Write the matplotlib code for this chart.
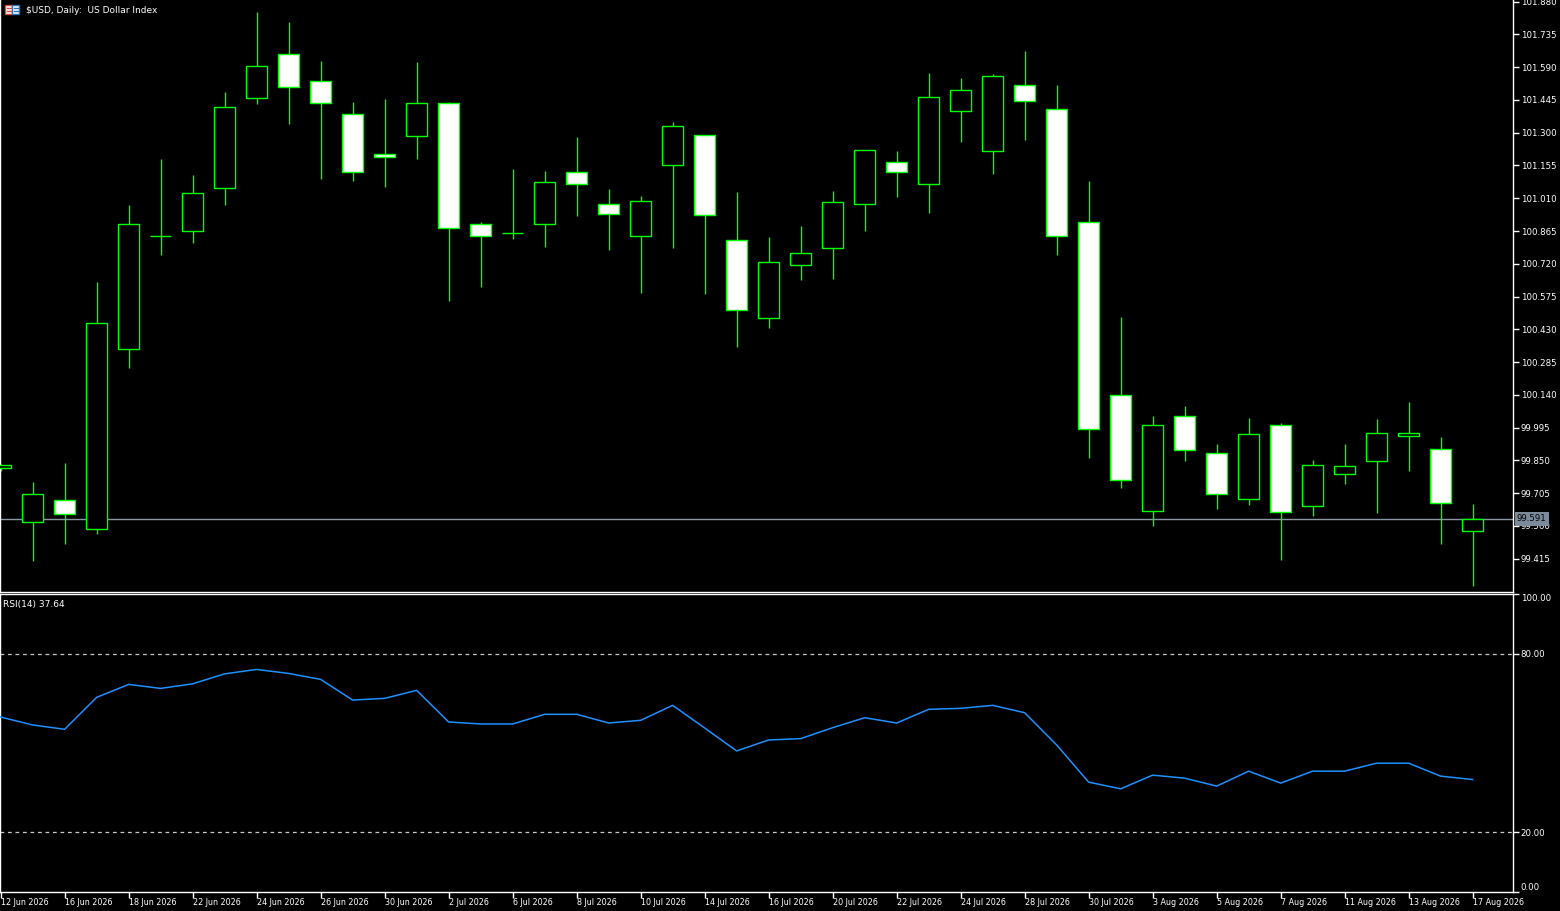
import matplotlib
matplotlib.use("Agg")
import matplotlib.pyplot as plt
from matplotlib.patches import Rectangle
from matplotlib.lines import Line2D
import matplotlib.transforms as mtransforms
import numpy as np

# ---------------- data ----------------
dates = ["12 Jun 2026", "15 Jun 2026", "16 Jun 2026", "17 Jun 2026", "18 Jun 2026", "19 Jun 2026",
         "22 Jun 2026", "23 Jun 2026", "24 Jun 2026", "25 Jun 2026", "26 Jun 2026", "29 Jun 2026",
         "30 Jun 2026", "1 Jul 2026", "2 Jul 2026", "3 Jul 2026", "6 Jul 2026", "7 Jul 2026",
         "8 Jul 2026", "9 Jul 2026", "10 Jul 2026", "13 Jul 2026", "14 Jul 2026", "15 Jul 2026",
         "16 Jul 2026", "17 Jul 2026", "20 Jul 2026", "21 Jul 2026", "22 Jul 2026", "23 Jul 2026",
         "24 Jul 2026", "27 Jul 2026", "28 Jul 2026", "29 Jul 2026", "30 Jul 2026", "31 Jul 2026",
         "3 Aug 2026", "4 Aug 2026", "5 Aug 2026", "6 Aug 2026", "7 Aug 2026", "10 Aug 2026",
         "11 Aug 2026", "12 Aug 2026", "13 Aug 2026", "14 Aug 2026", "17 Aug 2026"]

opens = [99.815, 99.576, 99.673, 99.546, 100.341, 100.843, 100.863, 101.054, 101.452, 101.650,
         101.527, 101.381, 101.205, 101.285, 101.430, 100.895, 100.856, 100.898, 101.125, 100.983,
         100.841, 101.156, 101.288, 100.824, 100.478, 100.714, 100.789, 100.986, 101.169, 101.074,
         101.398, 101.220, 101.510, 101.403, 100.904, 100.138, 99.625, 100.045, 99.881, 99.678,
         100.005, 99.647, 99.788, 99.846, 99.957, 99.899, 99.536]
highs = [99.835, 99.754, 99.838, 100.638, 100.978, 101.183, 101.115, 101.481, 101.835, 101.791,
         101.618, 101.435, 101.449, 101.613, 101.435, 100.905, 101.139, 101.131, 101.281, 101.051,
         101.020, 101.347, 101.290, 101.037, 100.839, 100.886, 101.042, 101.222, 101.217, 101.564,
         101.542, 101.560, 101.662, 101.511, 101.086, 100.485, 100.046, 100.091, 99.923, 100.038,
         100.014, 99.852, 99.923, 100.033, 100.108, 99.954, 99.657]
lows = [99.805, 99.407, 99.480, 99.525, 100.257, 100.761, 100.814, 100.978, 101.428, 101.340,
        101.096, 101.088, 101.058, 101.185, 100.556, 100.619, 100.831, 100.795, 100.932, 100.781,
        100.590, 100.790, 100.587, 100.350, 100.438, 100.650, 100.654, 100.863, 101.017, 100.946,
        101.261, 101.119, 101.269, 100.761, 99.862, 99.730, 99.561, 99.849, 99.636, 99.654,
        99.411, 99.605, 99.747, 99.619, 99.804, 99.481, 99.296]
closes = [99.828, 99.700, 99.611, 100.457, 100.895, 100.845, 101.032, 101.412, 101.594, 101.501,
          101.430, 101.125, 101.191, 101.433, 100.877, 100.844, 100.858, 101.080, 101.071, 100.942,
          100.996, 101.328, 100.937, 100.514, 100.726, 100.769, 100.992, 101.222, 101.125, 101.457,
          101.488, 101.549, 101.439, 100.841, 99.988, 99.762, 100.006, 99.895, 99.700, 99.965,
          99.620, 99.828, 99.824, 99.970, 99.970, 99.660, 99.591]

rsi = [58.65, 55.97, 54.53, 65.26, 69.61, 68.27, 69.81, 73.16, 74.64, 73.30, 71.29, 64.35, 64.92,
       67.60, 56.98, 56.31, 56.31, 59.56, 59.56, 56.64, 57.54, 62.57, 54.96, 47.25, 50.94, 51.38, 55.06,
       58.42, 56.64, 61.23, 61.57, 62.57, 60.09, 49.26, 36.76, 34.52, 39.11, 38.10, 35.42, 40.45,
       36.43, 40.45, 40.45, 43.13, 43.13, 38.77, 37.64]

price_ticks = [99.415, 99.560, 99.705, 99.850, 99.995, 100.140, 100.285, 100.430, 100.575,
               100.720, 100.865, 101.010, 101.155, 101.300, 101.445, 101.590, 101.735, 101.880]
rsi_levels = [20, 80]
rsi_ticks = [0, 20, 80, 100]
last_price = 99.591
title = "$USD, Daily:  US Dollar Index"
rsi_title = "RSI(14) 37.64"

# ---------------- style ----------------
BG = "black"
FG = "white"
GREEN = "#00ff00"
W, H = 1560, 911
fig = plt.figure(figsize=(W / 100, H / 100), dpi=100, facecolor=BG)

ax_right = 1513
ax1 = fig.add_axes([0, (H - 592) / H, ax_right / W, 592 / H], facecolor=BG)
ax2 = fig.add_axes([0, (H - 891.5) / H, ax_right / W, (891.5 - 594) / H], facecolor=BG, sharex=ax1)

n = len(opens)
x = np.arange(n)
xmin = -0.02
xmax = xmin + ax_right / 32.0

# candles
body_w = 0.67
for i in range(n):
    o, h, l, c = opens[i], highs[i], lows[i], closes[i]
    ax1.vlines(x[i], l, h, color=GREEN, lw=1.0, zorder=2)
    bottom = min(o, c)
    height = max(abs(c - o), 0.0015)
    face = "white" if c < o else "black"
    ax1.add_patch(Rectangle((x[i] - body_w / 2, bottom), body_w, height,
                            facecolor=face, edgecolor=GREEN, lw=1.0, zorder=3))

ax1.axhline(last_price, color="#8a96a3", lw=1.0, zorder=1)
ax1.set_xlim(xmin, xmax)
ax1.set_ylim(99.268, 101.887)

ax1.set_yticks(price_ticks)
ax1.set_yticklabels([f"{t:.3f}" for t in price_ticks])
ax1.tick_params(axis="y", which="both", left=False, right=True, labelleft=False, labelright=True,
                direction="out", length=4, width=1, color=FG, labelcolor=FG, labelsize=6.2, pad=1.5)
ax1.tick_params(axis="x", bottom=False, labelbottom=False)

blend1 = mtransforms.blended_transform_factory(ax1.transAxes, ax1.transData)
ax1.text(1.0025, last_price, f"{last_price:.3f}", transform=blend1, color="black", fontsize=6.2,
         va="center", ha="left", clip_on=False, zorder=10,
         bbox=dict(facecolor="#7b8b9b", edgecolor="none", boxstyle="square,pad=0.25"))

# RSI panel
for lv in rsi_levels:
    ax2.axhline(lv, color="#c8c8c8", lw=0.9, ls=(0, (3, 3)), zorder=1)
ax2.plot(x, rsi, color="#1e90ff", lw=1.1, zorder=3)
ax2.set_ylim(0, 100)
ax2.set_yticks(rsi_ticks)
ax2.set_yticklabels([f"{t:.2f}" for t in rsi_ticks])
ax2.tick_params(axis="y", left=False, right=True, labelleft=False, labelright=True,
                direction="out", length=4, width=1, color=FG, labelcolor=FG, labelsize=6.2, pad=1.5)
lbls = ax2.get_yticklabels()
lbls[0].set_va("bottom")
lbls[-1].set_va("top")

tick_pos = x[::2]
ax2.set_xticks(tick_pos)
ax2.set_xticklabels([dates[i] for i in tick_pos], ha="left")
ax2.tick_params(axis="x", direction="out", length=4, width=1, color=FG, labelcolor=FG,
                labelsize=5.8, pad=0.8)
ax2.set_xlim(xmin, xmax)

for ax in (ax1, ax2):
    for s in ("left", "right", "bottom", "top"):
        ax.spines[s].set_color(FG)
        ax.spines[s].set_linewidth(1.0)
ax1.spines["top"].set_visible(False)

# titles
fig.text(26 / W, 1 - 10.5 / H, title, color=FG, fontsize=6.5, va="center", ha="left")
fig.text(3 / W, 1 - 604 / H, rsi_title, color=FG, fontsize=6.5, va="center", ha="left")

# small chart icon
def fx(px):
    return px / W

def fy(py):
    return 1 - py / H

fig.patches.append(Rectangle((fx(5), fy(14)), fx(7), 9 / H, transform=fig.transFigure,
                             facecolor="white", edgecolor="#e0463c", lw=1.0))
fig.patches.append(Rectangle((fx(12.5), fy(14)), fx(7), 9 / H, transform=fig.transFigure,
                             facecolor="white", edgecolor="#2a6fc0", lw=1.0))
for yy in (8, 11):
    fig.lines.append(Line2D([fx(6.5), fx(11)], [fy(yy), fy(yy)], transform=fig.transFigure,
                            color="#e0463c", lw=1.0))
    fig.lines.append(Line2D([fx(14), fx(18.5)], [fy(yy), fy(yy)], transform=fig.transFigure,
                            color="#2a6fc0", lw=1.0))

fig.savefig("out.png", dpi=100, facecolor=BG)
